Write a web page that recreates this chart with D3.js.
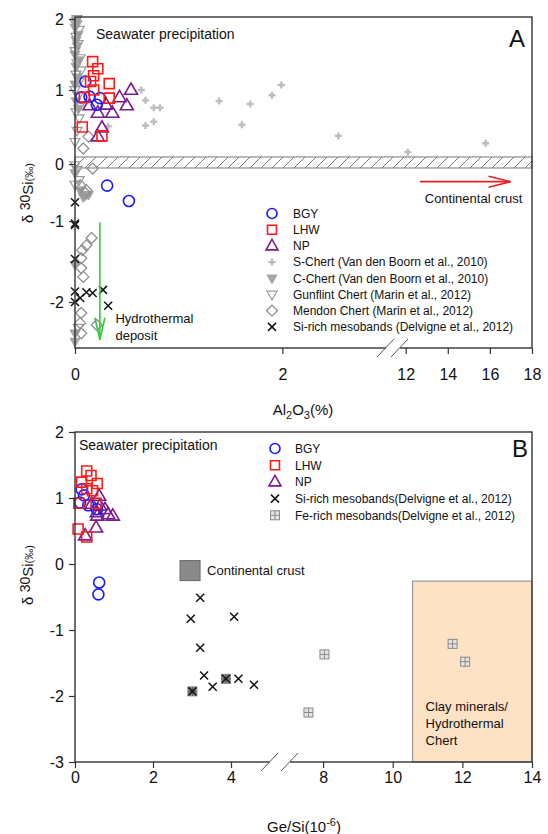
<!DOCTYPE html>
<html><head><meta charset="utf-8">
<script src="https://cdn.jsdelivr.net/npm/d3@7"></script>
<style>
body{margin:0;background:#fff}
svg{display:block}
text{font-family:"Liberation Sans",Arial,Helvetica,sans-serif;fill:#111}
</style>
</head><body>
<svg id="c" width="548" height="834"></svg>
<script>
// ===== Panel A data (x: Al2O3 %, y: δ30Si ‰) =====
const bgyAx = [0.10, 0.06, 0.14, 0.24, 0.21, 0.31, 0.52];
const bgyAy = [1.12, 0.90, 0.91, 0.89, 0.80, -0.38, -0.65];
const lhwAx = [0.17, 0.22, 0.18, 0.33, 0.15, 0.09, 0.33, 0.18, 0.07, 0.26];
const lhwAy = [1.40, 1.30, 1.20, 1.09, 1.12, 0.90, 0.89, 1.00, 0.50, 0.38];
const npAx  = [0.54, 0.43, 0.50, 0.36, 0.22, 0.26, 0.22, 0.14, 0.30];
const npAy  = [1.00, 0.90, 0.79, 0.69, 0.69, 0.49, 0.37, 0.79, 0.80];
const sChertX = [0.64, 0.68, 0.76, 0.82, 0.76, 0.68, 0.32, 1.39, 1.69, 1.61, 1.90, 1.99, 2.54, 12.1, 15.8];
const sChertY = [1.00, 0.86, 0.76, 0.76, 0.57, 0.52, 0.51, 0.85, 0.81, 0.53, 0.93, 1.07, 0.38, 0.16, 0.28];
const cChertX = [0.01, 0.02, 0.00, 0.03, 0.01, 0.02, 0.00, 0.03, 0.01, 0.02, 0.00, 0.01, 0.03, 0.00, 0.05, 0.13, 0.08, 0.10, 0.00, 0.00, 0.00];
const cChertY = [1.98, 1.93, 1.88, 1.78, 1.70, 1.62, 1.50, 1.42, 1.33, 1.18, 1.08, 0.85, 0.75, -0.16, -0.46, -0.54, -0.58, -0.55, -1.54, -2.34, -2.43];
const gunX = [0.02, 0.00, 0.04, 0.01, 0.03, 0.00, 0.05, 0.02, 0.06, 0.01, 0.04, 0.00, 0.03, 0.05, 0.01, 0.04, 0.02, 0.00, 0.00, 0.02, 0.04, 0.00, 0.03];
const gunY = [2.00, 1.95, 1.85, 1.75, 1.65, 1.55, 1.45, 1.38, 1.28, 1.22, 1.12, 1.00, 0.92, 0.80, 0.70, 0.62, 0.45, 0.30, -0.02, -0.10, -0.28, -0.36, -2.28];
const mendonX = [0.13, 0.08, 0.17, 0.05, 0.10, 0.11, 0.16, 0.11, 0.07, 0.06, 0.06, 0.08, 0.06, 0.05, 0.06, 0.21];
const mendonY = [0.37, 0.21, -0.08, -0.37, -0.51, -0.46, -1.21, -1.30, -1.36, -1.46, -1.58, -1.69, -2.12, -2.23, -2.34, -2.25];
const siAx = [0.00, 0.00, 0.00, 0.00, 0.00, 0.05, 0.00, 0.11, 0.17, 0.27, 0.32];
const siAy = [-0.67, -1.03, -1.05, -1.47, -1.87, -1.95, -2.00, -1.88, -1.89, -1.85, -2.04];
const xTicksA = [0, 2, 12, 14, 16, 18];
const yTicksA = [-2, -1, 0, 1, 2];
const legendA = ["BGY", "LHW", "NP", "S-Chert (Van den Boorn et al., 2010)", "C-Chert  (Van den Boorn et al., 2010)",
  "Gunflint Chert (Marin et al., 2012)", "Mendon Chert (Marin et al., 2012)", "Si-rich mesobands (Delvigne et al., 2012)"];

// ===== Panel B data (x: Ge/Si 10^-6, y: δ30Si ‰) =====
const bgyBx = [0.17, 0.23, 0.13, 0.34, 0.56, 0.62, 0.60];
const bgyBy = [1.13, 1.04, 0.93, 0.89, 0.83, -0.28, -0.46];
const lhwBx = [0.30, 0.41, 0.17, 0.57, 0.30, 0.45, 0.10, 0.54, 0.08, 0.30];
const lhwBy = [1.41, 1.34, 1.24, 1.22, 1.14, 1.11, 0.92, 0.92, 0.53, 0.41];
const npBx  = [0.62, 0.43, 0.64, 0.77, 0.56, 0.85, 0.97, 0.57, 0.54, 0.26];
const npBy  = [1.03, 0.91, 0.88, 0.83, 0.78, 0.75, 0.73, 0.73, 0.55, 0.43];
const siBx = [3.21, 2.97, 4.08, 3.21, 3.31, 3.53, 4.19, 4.59, 3.01, 3.87];
const siBy = [-0.51, -0.83, -0.80, -1.27, -1.69, -1.86, -1.74, -1.83, -1.93, -1.74];
const feBx = [7.58, 8.04, 11.72, 12.08];
const feBy = [-2.25, -1.37, -1.21, -1.48];
const crustPtBx = [3.01, 3.87];
const crustPtBy = [-1.93, -1.74];
const clayBoxX = [10.57, 14];
const clayBoxY = [-3, -0.26];
const xTicksB = [0, 2, 4, 8, 10, 12, 14];
const yTicksB = [-3, -2, -1, 0, 1, 2];
const legendB = ["BGY", "LHW", "NP", "Si-rich mesobands(Delvigne et al., 2012)", "Fe-rich mesobands(Delvigne et al., 2012)"];

// ===== scales (broken x axes) =====
const xA = d3.scaleLinear().domain([0, 3, 11.73, 18]).range([75, 386, 400, 532]);
const yA = d3.scaleLinear().domain([-2.5, -2, -1, 0, 1, 2, 2.03]).range([348, 302, 221, 164, 90, 19, 17]);
const xB = d3.scaleLinear().domain([0, 5, 7.05, 14]).range([75, 270, 290, 532]);
const yB = d3.scaleLinear().domain([-3, 2]).range([762, 432]);

const svg = d3.select("#c");
const defs = svg.append("defs");
const pat = defs.append("pattern").attr("id", "hatch").attr("patternUnits", "userSpaceOnUse")
  .attr("width", 11).attr("height", 11);
pat.append("path").attr("d", "M0,11 L11,0 M-3,3 L3,-3 M8,14 L14,8").attr("stroke", "#777").attr("stroke-width", 1);

// ===== symbol shapes =====
function shape(type, s) {
  const h = s / 2;
  switch (type) {
    case "circle": return `M${h},0A${h},${h} 0 1,1 ${-h},0A${h},${h} 0 1,1 ${h},0Z`;
    case "square": return `M${-h},${-h}H${h}V${h}H${-h}Z`;
    case "tri": { const t = s * 0.866; return `M0,${-t * 0.62}L${h},${t * 0.38}L${-h},${t * 0.38}Z`; }
    case "itri": { const t = s * 0.866; return `M0,${t * 0.62}L${h},${-t * 0.38}L${-h},${-t * 0.38}Z`; }
    case "diamond": return `M0,${-h}L${h},0L0,${h}L${-h},0Z`;
    case "x": return `M${-h},${-h}L${h},${h}M${-h},${h}L${h},${-h}`;
    case "plus": return `M${-h},0H${h}M0,${-h}V${h}`;
  }
}
const styles = {
  bgy: {type: "circle", s: 11, stroke: "#1a1aff", fill: "none", sw: 1.6},
  lhw: {type: "square", s: 10, stroke: "#ff1a1a", fill: "none", sw: 1.6},
  np: {type: "tri", s: 13, stroke: "#7b1a8c", fill: "none", sw: 1.6},
  schert: {type: "plus", s: 7, stroke: "#bdbdbd", fill: "none", sw: 2.4},
  cchert: {type: "itri", s: 10, stroke: "#a5a5a5", fill: "#a5a5a5", sw: 1},
  gun: {type: "itri", s: 10, stroke: "#9a9a9a", fill: "none", sw: 1.2},
  mendon: {type: "diamond", s: 11, stroke: "#909090", fill: "none", sw: 1.3},
  si: {type: "x", s: 8, stroke: "#111", fill: "none", sw: 1.5}
};
function drawSym(g, st, px, py) {
  g.append("path").attr("d", shape(st.type, st.s)).attr("transform", `translate(${px},${py})`)
    .attr("stroke", st.stroke).attr("fill", st.fill).attr("stroke-width", st.sw);
}
function series(g, xs, ys, xsc, ysc, st) {
  xs.forEach((v, i) => drawSym(g, st, xsc(v), ysc(ys[i])));
}
function feSym(g, px, py, dark) {
  const s = 9, h = s / 2;
  g.append("rect").attr("x", px - h).attr("y", py - h).attr("width", s).attr("height", s)
    .attr("fill", dark ? "#8a8a8a" : "#e4e4e4").attr("stroke", "#8a8a8a").attr("stroke-width", 1);
  g.append("path").attr("d", `M${px - h},${py}H${px + h}M${px},${py - h}V${py + h}`)
    .attr("stroke", dark ? "#555" : "#8a8a8a").attr("stroke-width", 1);
}

const font = '"Liberation Sans",Arial,Helvetica,sans-serif';

function frameAndAxes(g, xs, ys, xt, yt, padX, padY, breakDom) {
  const [x0, x1] = [xs.range()[0], xs.range()[xs.range().length - 1]];
  const [yb, yt0] = [ys.range()[0], ys.range()[ys.range().length - 1]];
  const fmt = d => String(d);
  const ax = g.append("g").attr("transform", `translate(0,${yb})`)
    .call(d3.axisBottom(xs).tickValues(xt).tickFormat(fmt).tickSize(6).tickSizeOuter(0).tickPadding(padX));
  const ay = g.append("g").attr("transform", `translate(${x0},0)`)
    .call(d3.axisLeft(ys).tickValues(yt).tickFormat(fmt).tickSize(6).tickSizeOuter(0).tickPadding(padY));
  [ax, ay].forEach(a => {
    a.select(".domain").remove();
    a.selectAll(".tick line").attr("stroke", "#333").attr("stroke-width", 1.2);
    a.selectAll(".tick text").attr("font-size", 16).attr("font-family", font).attr("fill", "#111");
  });
  g.append("rect").attr("x", x0).attr("y", yt0).attr("width", x1 - x0).attr("height", yb - yt0)
    .attr("fill", "none").attr("stroke", "#333").attr("stroke-width", 1.4);
  const bx0 = xs(breakDom[0]), bx1 = xs(breakDom[1]);
  g.append("rect").attr("x", bx0).attr("y", yb - 3).attr("width", bx1 - bx0).attr("height", 6).attr("fill", "#fff");
  [bx0, bx1].forEach(bx => {
    g.append("line").attr("x1", bx - 9).attr("y1", yb + 9).attr("x2", bx + 8).attr("y2", yb - 9)
      .attr("stroke", "#555").attr("stroke-width", 1);
  });
}

function arrow(g, x1, y1, x2, y2, color, head, half) {
  g.append("line").attr("x1", x1).attr("y1", y1).attr("x2", x2).attr("y2", y2)
    .attr("stroke", color).attr("stroke-width", 1.6);
  const ang = Math.atan2(y2 - y1, x2 - x1);
  const bx = x2 - head * Math.cos(ang), by = y2 - head * Math.sin(ang);
  const nx = -Math.sin(ang) * half, ny = Math.cos(ang) * half;
  g.append("path").attr("d", `M${bx + nx},${by + ny}L${x2},${y2}L${bx - nx},${by - ny}`)
    .attr("stroke", color).attr("fill", "none").attr("stroke-width", 1.6);
}

// ================= PANEL A =================
const gA = svg.append("g");
gA.append("rect").attr("x", xA(0)).attr("y", yA(0.095)).attr("width", xA(18) - xA(0))
  .attr("height", yA(-0.07) - yA(0.095)).attr("fill", "url(#hatch)").attr("stroke", "#777").attr("stroke-width", 1);

series(gA, sChertX, sChertY, xA, yA, styles.schert);
series(gA, cChertX, cChertY, xA, yA, styles.cchert);
series(gA, gunX, gunY, xA, yA, styles.gun);
series(gA, mendonX, mendonY, xA, yA, styles.mendon);
series(gA, siAx, siAy, xA, yA, styles.si);
series(gA, npAx, npAy, xA, yA, styles.np);
series(gA, bgyAx, bgyAy, xA, yA, styles.bgy);
series(gA, lhwAx, lhwAy, xA, yA, styles.lhw);

frameAndAxes(gA, xA, yA, xTicksA, yTicksA, 15, 5, [3, 11.73]);

gA.append("text").attr("x", xA(0) + 21).attr("y", 39).attr("font-size", 14).text("Seawater precipitation");
gA.append("text").attr("x", 509).attr("y", 47).attr("font-size", 24).text("A");
arrow(gA, xA(12.68), yA(-0.31), xA(16.98), yA(-0.31), "#e82020", 22, 5.5);
gA.append("text").attr("x", xA(17.54)).attr("y", 203).attr("text-anchor", "end").attr("font-size", 13).text("Continental crust");
arrow(gA, xA(0.24), yA(-1.02), xA(0.24), yA(-2.41), "#33cc33", 22, 5);
gA.append("text").attr("x", xA(0.39)).attr("y", 323).attr("font-size", 13).text("Hydrothermal");
gA.append("text").attr("x", xA(0.39)).attr("y", 340).attr("font-size", 13).text("deposit");

const legStA = [styles.bgy, styles.lhw, styles.np, styles.schert, styles.cchert, styles.gun, styles.mendon, styles.si];
legendA.forEach((t, i) => {
  const y = 213.5 + i * 16.2;
  const st = Object.assign({}, legStA[i]);
  if (st.type === "circle") st.s = 10;
  if (st.type === "square") st.s = 9;
  if (st.type === "tri") st.s = 12;
  drawSym(gA, st, 272, y);
  gA.append("text").attr("x", 293).attr("y", y).attr("dy", "0.36em").attr("font-size", 12).text(t);
});

const xtA = gA.append("text").attr("x", 303).attr("y", 415).attr("text-anchor", "middle").attr("font-size", 15);
xtA.append("tspan").text("Al");
xtA.append("tspan").attr("font-size", 11).attr("dy", 4).text("2");
xtA.append("tspan").attr("dy", -4).text("O");
xtA.append("tspan").attr("font-size", 11).attr("dy", 4).text("3");
xtA.append("tspan").attr("dy", -4).text("(%)");

function yTitle(g, cx, cy) {
  const t = g.append("text").attr("transform", `translate(${cx},${cy}) rotate(-90)`).attr("text-anchor", "middle").attr("font-size", 15);
  t.append("tspan").text("δ ");
  t.append("tspan").attr("font-size", 14).attr("dy", -3).text("30");
  t.append("tspan").attr("dy", 3).text("Si");
  t.append("tspan").attr("font-size", 11).text("(‰)");
}
yTitle(gA, 33, 193);

// ================= PANEL B =================
const gB = svg.append("g");
gB.append("rect").attr("x", xB(clayBoxX[0])).attr("y", yB(clayBoxY[1])).attr("width", xB(clayBoxX[1]) - xB(clayBoxX[0]))
  .attr("height", yB(clayBoxY[0]) - yB(clayBoxY[1])).attr("fill", "#fde2c6").attr("stroke", "#999").attr("stroke-width", 1.2);
["Clay minerals/", "Hydrothermal", "Chert"].forEach((t, i) => {
  gB.append("text").attr("x", xB(clayBoxX[0]) + 13).attr("y", 711 + i * 17).attr("font-size", 13).text(t);
});

feBx.forEach((v, i) => feSym(gB, xB(v), yB(feBy[i]), false));
crustPtBx.forEach((v, i) => feSym(gB, xB(v), yB(crustPtBy[i]), true));
series(gB, siBx, siBy, xB, yB, styles.si);
series(gB, npBx, npBy, xB, yB, styles.np);
series(gB, bgyBx, bgyBy, xB, yB, styles.bgy);
series(gB, lhwBx, lhwBy, xB, yB, styles.lhw);

frameAndAxes(gB, xB, yB, xTicksB, yTicksB, 4, 5, [5, 7.05]);

gB.append("text").attr("x", xB(0) + 4).attr("y", 450).attr("font-size", 14).text("Seawater precipitation");
gB.append("text").attr("x", 512).attr("y", 457).attr("font-size", 24).text("B");
gB.append("rect").attr("x", xB(2.95) - 10).attr("y", yB(-0.10) - 10).attr("width", 20).attr("height", 20)
  .attr("fill", "#8a8a8a").attr("stroke", "#666").attr("stroke-width", 1);
gB.append("text").attr("x", xB(2.95) + 17).attr("y", yB(-0.10)).attr("dy", "0.36em").attr("font-size", 13).text("Continental crust");

const legStB = [styles.bgy, styles.lhw, styles.np, styles.si, null];
legendB.forEach((t, i) => {
  const y = 448.5 + i * 16.7;
  if (legStB[i]) {
    const st = Object.assign({}, legStB[i]);
    if (st.type === "circle") st.s = 10;
    if (st.type === "square") st.s = 9;
    if (st.type === "tri") st.s = 12;
    drawSym(gB, st, 275, y);
  } else {
    feSym(gB, 275, y, false);
  }
  gB.append("text").attr("x", 295).attr("y", y).attr("dy", "0.36em").attr("font-size", 12).text(t);
});

const xtB = gB.append("text").attr("x", 304).attr("y", 832).attr("text-anchor", "middle").attr("font-size", 15);
xtB.append("tspan").text("Ge/Si(10");
xtB.append("tspan").attr("font-size", 11).attr("dy", -6).text("-6");
xtB.append("tspan").attr("dy", 6).text(")");
yTitle(gB, 33, 575);
</script>
</body></html>
